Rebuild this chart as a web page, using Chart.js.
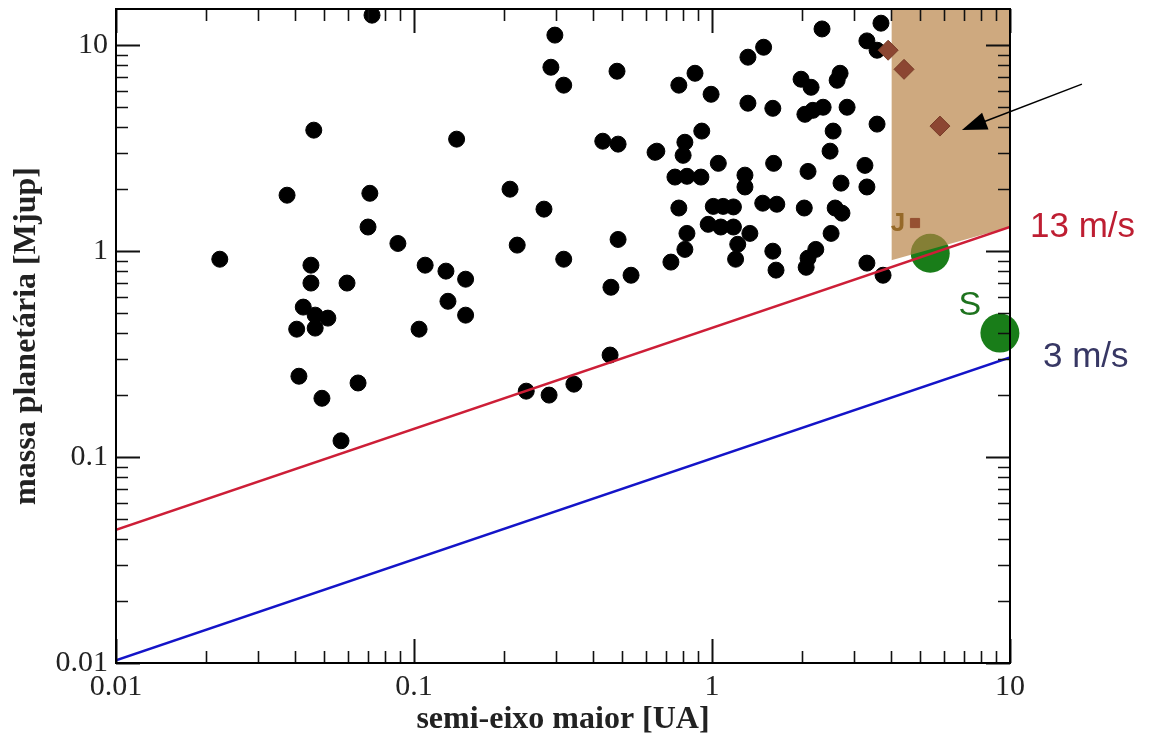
<!DOCTYPE html>
<html><head><meta charset="utf-8">
<script src="https://cdn.jsdelivr.net/npm/chart.js@4/dist/chart.umd.min.js"></script>
<style>html,body{margin:0;padding:0;background:#fff}#wrap{width:1153px;height:736px;position:relative}</style>
</head><body><div id="wrap"><canvas id="c"></canvas></div>
<script>
// ---- data (semi-eixo maior [UA], massa [Mjup]) ----
const exoA = [0.0223,0.0375,0.0461,0.0723,0.0711,0.0701,0.0883,0.0451,0.0451,0.0596,0.0425,0.0466,0.0514,0.0404,0.0466,0.0411,0.0491,0.0649,0.0569,
  0.139,0.109,0.128,0.149,0.130,0.149,0.104,0.210,0.273,0.222,0.318,0.484,0.535,0.458,0.455,0.344,0.238,0.284,0.297,0.288,0.318,0.480,0.430,0.484,0.644,
  2.34,3.69,1.49,1.32,3.31,3.58,0.877,0.774,0.993,1.99,2.15,2.69,2.63,1.32,1.60,2.05,2.18,2.36,2.84,3.58,0.924,0.811,0.800,0.653,2.55,2.49,
  1.05,1.61,2.10,3.26,0.751,0.824,0.918,1.29,1.29,2.71,3.31,0.774,1.01,1.09,1.18,1.48,1.65,2.04,2.59,2.73,0.971,1.07,1.18,1.34,0.824,2.51,
  1.22,0.811,1.60,2.23,2.10,0.728,1.20,2.07,1.64,3.31,3.75];
const exoM = [0.914,1.87,3.87,14.0,1.91,1.31,1.09,0.855,0.700,0.700,0.535,0.489,0.473,0.418,0.423,0.247,0.193,0.229,0.120,
  3.50,0.855,0.800,0.731,0.571,0.489,0.418,2.00,1.60,1.07,0.914,1.14,0.764,0.668,0.313,0.226,0.209,0.200,11.2,7.82,6.40,7.48,3.42,3.31,3.02,
  12.0,12.8,9.78,8.75,10.5,9.46,7.31,6.40,5.78,6.84,6.25,7.31,6.76,5.23,4.94,4.62,4.83,5.00,5.00,4.14,3.83,3.38,2.92,3.06,3.83,3.06,
  2.67,2.67,2.44,2.61,2.29,2.31,2.29,2.34,2.05,2.14,2.05,1.62,1.65,1.65,1.64,1.71,1.69,1.62,1.62,1.53,1.35,1.31,1.31,1.22,1.22,1.22,
  1.08,1.02,1.00,1.02,0.925,0.885,0.914,0.835,0.809,0.875,0.764];
const brownA = [3.90, 4.41, 5.82];
const brownM = [9.46, 7.64, 4.05];
const solarNames = ['J', 'S'];
const solarA = [5.40, 9.25];
const solarM = [0.977, 0.40];
const jMarkA = [4.80];
const jMarkM = [1.37];
const line13A = [0.01, 10];
const line13M = [0.0443, 1.31];
const line3A = [0.01, 10];
const line3M = [0.0103, 0.305];
const shadeA = [4.0, 10];
const shadeM = [0.904, 1.31];
const line13Label = '13 m/s';
const line3Label = '3 m/s';
const xTickValues = [0.01, 0.1, 1, 10];
const xTickLabels = ['0.01', '0.1', '1', '10'];
const yTickValues = [0.01, 0.1, 1, 10];
const yTickLabels = ['0.01', '0.1', '1', '10'];
const xMin = 0.01, xMax = 10, yMin = 0.01, yMax = 15;

const pts = (A, M) => A.map((a, i) => ({x: a, y: M[i]}));
function logTicks(min, max) {
  const out = [];
  for (let e = Math.floor(Math.log10(min)); e <= Math.ceil(Math.log10(max)); e++) {
    for (let k = 1; k <= 9; k++) {
      const v = parseFloat((k * Math.pow(10, e)).toPrecision(6));
      if (v >= min * 0.9999 && v <= max * 1.0001) out.push({value: v});
    }
  }
  return out;
}
function majorIndex(vals, v) {
  return vals.findIndex(t => Math.abs(Math.log10(t) - Math.log10(v)) < 1e-6);
}

const serif = 'Liberation Serif';
const sans = 'Liberation Sans';

const decor = {
  id: 'decor',
  afterDraw(chart) {
    const {ctx, chartArea: ca, scales: {x, y}} = chart;
    ctx.save();
    // inward ticks on four sides
    ctx.strokeStyle = '#111';
    x.ticks.forEach(t => {
      const px = Math.round(x.getPixelForValue(t.value)) + 0.5;
      const maj = majorIndex(xTickValues, t.value) >= 0;
      const len = maj ? 24 : 12;
      ctx.lineWidth = maj ? 2 : 1.6;
      ctx.beginPath();
      ctx.moveTo(px, ca.bottom); ctx.lineTo(px, ca.bottom - len);
      ctx.moveTo(px, ca.top); ctx.lineTo(px, ca.top + len);
      ctx.stroke();
    });
    y.ticks.forEach(t => {
      const py = Math.round(y.getPixelForValue(t.value)) + 0.5;
      const maj = majorIndex(yTickValues, t.value) >= 0;
      const len = maj ? 24 : 12;
      ctx.lineWidth = maj ? 2 : 1.6;
      ctx.beginPath();
      ctx.moveTo(ca.left, py); ctx.lineTo(ca.left + len, py);
      ctx.moveTo(ca.right, py); ctx.lineTo(ca.right - len, py);
      ctx.stroke();
    });
    // frame
    ctx.lineWidth = 2;
    ctx.strokeStyle = '#000';
    ctx.strokeRect(ca.left, ca.top, ca.right - ca.left, ca.bottom - ca.top);

    // line labels
    ctx.textBaseline = 'middle';
    ctx.textAlign = 'left';
    ctx.font = '35px "' + sans + '"';
    ctx.fillStyle = 'rgb(190,30,50)';
    ctx.fillText(line13Label, x.getPixelForValue(line13A[1]) + 20, y.getPixelForValue(line13M[1]));
    ctx.fillStyle = 'rgb(55,55,100)';
    ctx.fillText(line3Label, x.getPixelForValue(line3A[1]) + 33, y.getPixelForValue(line3M[1]));
    // planet letters
    ctx.textAlign = 'center';
    ctx.fillStyle = 'rgb(30,115,30)';
    ctx.font = '34px "' + sans + '"';
    ctx.fillText(solarNames[1], x.getPixelForValue(solarA[1]) - 30, y.getPixelForValue(solarM[1]) - 27);
    ctx.fillStyle = 'rgb(150,105,40)';
    ctx.font = 'bold 26px "' + sans + '"';
    ctx.fillText(solarNames[0], x.getPixelForValue(jMarkA[0]) - 17, y.getPixelForValue(jMarkM[0]) + 1);

    // arrow pointing to the lower brown-dwarf candidate
    const bx = x.getPixelForValue(brownA[2]), by = y.getPixelForValue(brownM[2]);
    const sx = bx + 142, sy = by - 42, tx = bx + 22, ty = by + 4;
    const ang = Math.atan2(ty - sy, tx - sx);
    ctx.strokeStyle = '#000';
    ctx.lineWidth = 1.5;
    ctx.beginPath(); ctx.moveTo(sx, sy); ctx.lineTo(tx - 20 * Math.cos(ang), ty - 20 * Math.sin(ang)); ctx.stroke();
    ctx.fillStyle = '#000';
    ctx.beginPath();
    ctx.moveTo(tx, ty);
    ctx.lineTo(tx - 25 * Math.cos(ang) + 9 * Math.sin(ang), ty - 25 * Math.sin(ang) - 9 * Math.cos(ang));
    ctx.lineTo(tx - 25 * Math.cos(ang) - 9 * Math.sin(ang), ty - 25 * Math.sin(ang) + 9 * Math.cos(ang));
    ctx.closePath(); ctx.fill();
    ctx.restore();
  }
};

new Chart(document.getElementById('c'), {
  type: 'scatter',
  data: {
    datasets: [
      {type: 'line', label: '13 m/s', data: pts(line13A, line13M), borderColor: 'rgb(205,30,55)', borderWidth: 2.5, pointRadius: 0, fill: false, order: 0},
      {type: 'line', label: '3 m/s', data: pts(line3A, line3M), borderColor: 'rgb(20,20,200)', borderWidth: 2.5, pointRadius: 0, fill: false, order: 0},
      {label: 'anãs marrons', data: pts(brownA, brownM), pointStyle: 'rectRot', pointRadius: 10, backgroundColor: 'rgb(140,70,50)', borderColor: 'rgb(120,60,40)', borderWidth: 1, order: 1},
      {label: 'J marker', data: pts(jMarkA, jMarkM), pointStyle: 'rect', pointRadius: 6.5, backgroundColor: 'rgb(150,80,50)', borderColor: 'rgb(150,80,50)', order: 1},
      {type: 'line', label: 'região', data: pts(shadeA, shadeM), borderWidth: 0, borderColor: 'rgba(0,0,0,0)', pointRadius: 0, fill: 'end', backgroundColor: 'rgba(183,128,66,0.68)', order: 2},
      {label: 'Sistema Solar', data: pts(solarA, solarM), pointRadius: 19.5, backgroundColor: 'rgb(25,125,25)', borderColor: 'rgb(25,125,25)', borderWidth: 0, clip: false, order: 3},
      {label: 'exoplanetas', data: pts(exoA, exoM), pointRadius: 8, backgroundColor: '#000', borderColor: '#000', borderWidth: 1, order: 4}
    ]
  },
  options: {
    responsive: true, maintainAspectRatio: false, animation: false,
    layout: {autoPadding: false, padding: {left: 0, top: 9, right: 143, bottom: 0}},
    plugins: {legend: {display: false}, tooltip: {enabled: false}},
    scales: {
      x: {
        type: 'logarithmic', min: xMin, max: xMax, position: 'bottom',
        grid: {display: false, drawTicks: false}, border: {display: false},
        afterBuildTicks: s => { s.ticks = logTicks(xMin, xMax); },
        afterFit: s => { s.height = 73; s.paddingLeft = 0; s.paddingRight = 0; },
        ticks: {autoSkip: false, maxRotation: 0, padding: 6, color: '#222', font: {family: serif, size: 30},
          callback: v => { const i = majorIndex(xTickValues, v); return i >= 0 ? xTickLabels[i] : ''; }},
        title: {display: true, text: 'semi-eixo maior [UA]', color: '#222', font: {family: serif, size: 32, weight: 'bold', lineHeight: 1}, padding: {top: 0, bottom: 0}}
      },
      y: {
        type: 'logarithmic', min: yMin, max: yMax, position: 'left',
        grid: {display: false, drawTicks: false}, border: {display: false},
        afterBuildTicks: s => { s.ticks = logTicks(yMin, yMax); },
        afterFit: s => { s.width = 116; s.paddingTop = 0; s.paddingBottom = 0; },
        ticks: {autoSkip: false, padding: 8, color: '#222', font: {family: serif, size: 30},
          callback: v => { const i = majorIndex(yTickValues, v); return i >= 0 ? yTickLabels[i] : ''; }},
        title: {display: true, text: 'massa planetária [Mjup]', color: '#222', font: {family: serif, size: 32, weight: 'bold', lineHeight: 1}, padding: {top: 11, bottom: 0}}
      }
    }
  },
  plugins: [decor]
});
</script></body></html>
